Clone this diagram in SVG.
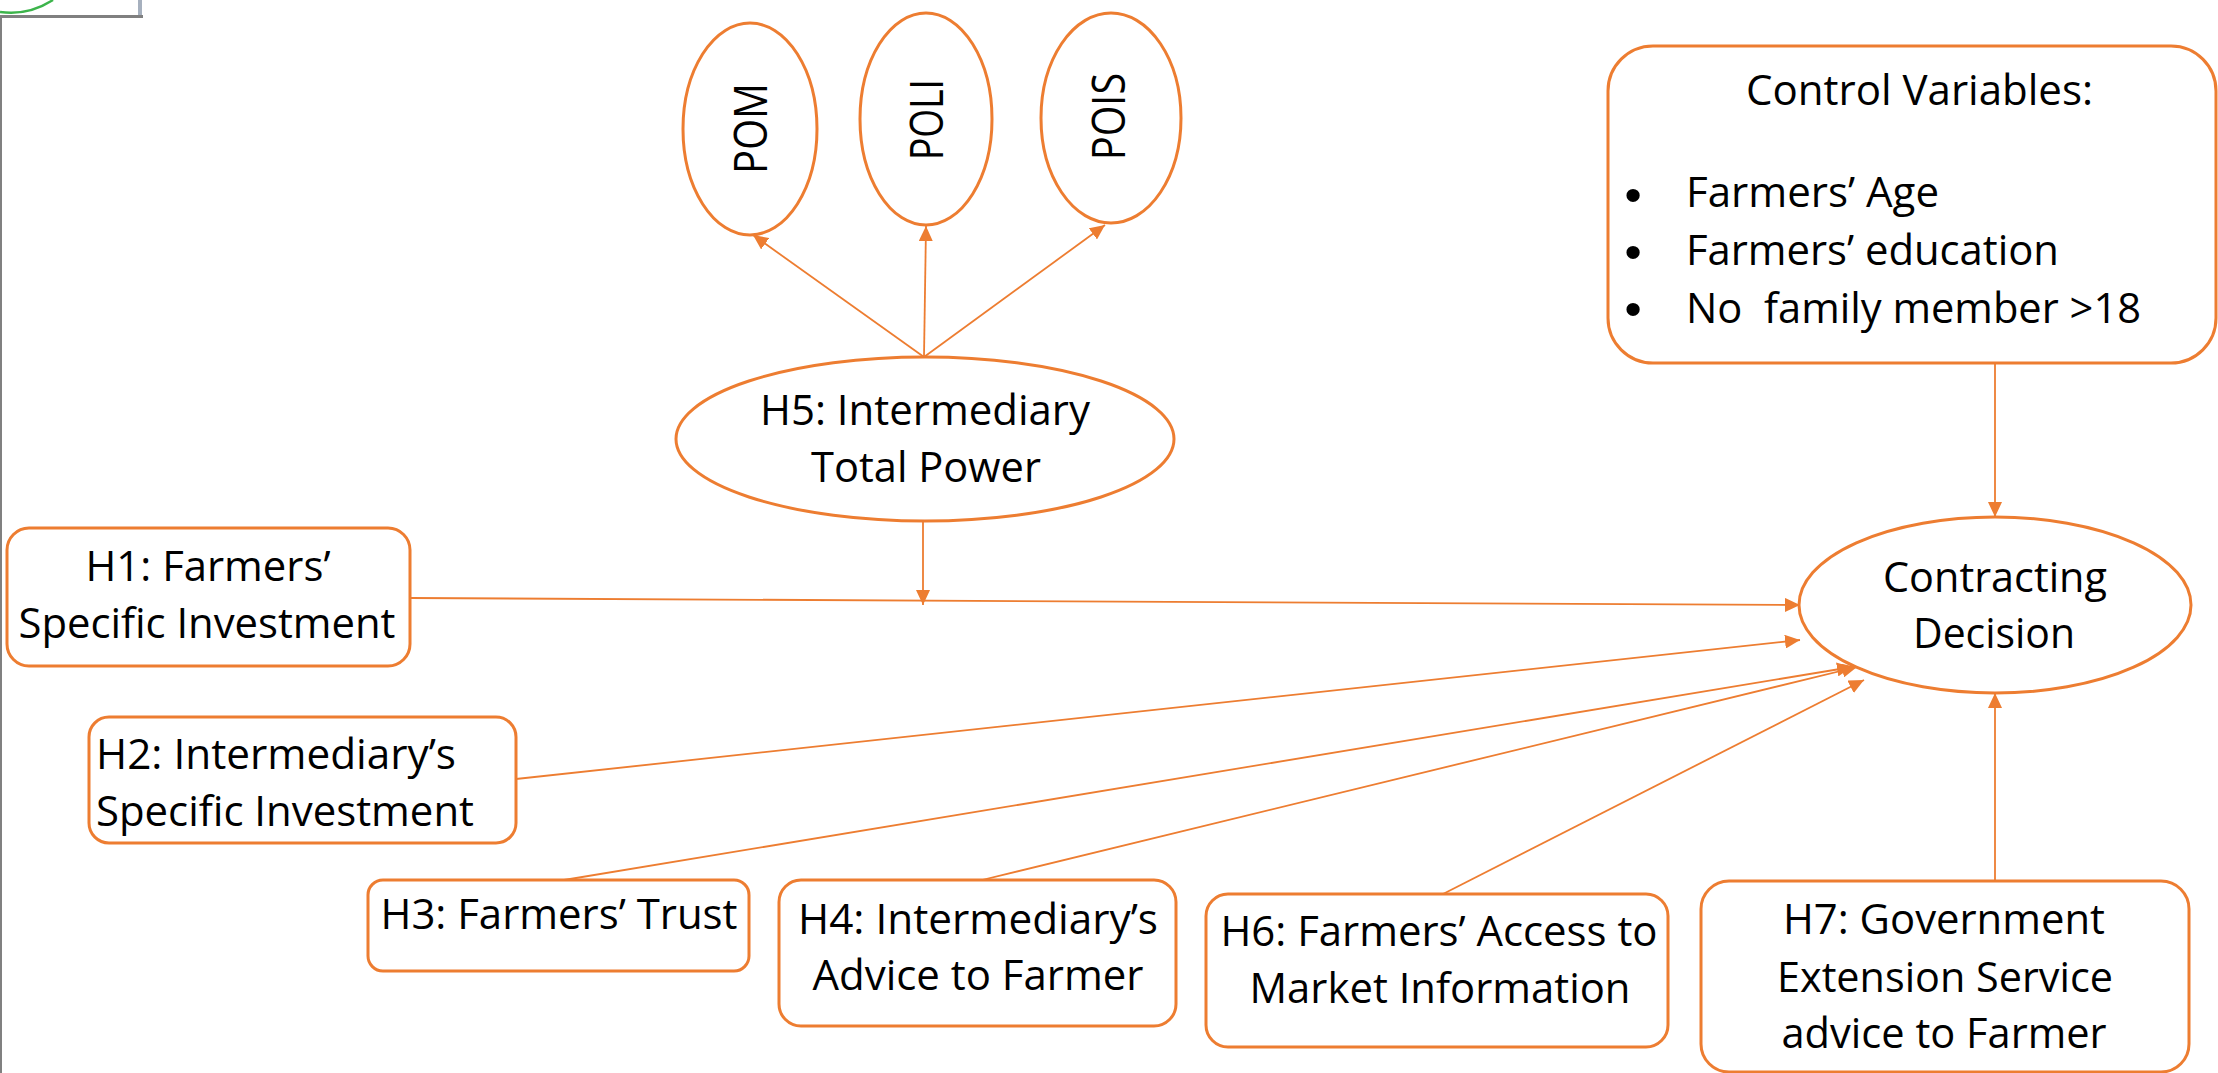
<svg xmlns="http://www.w3.org/2000/svg" width="2218" height="1073" viewBox="0 0 2218 1073">
<defs>
<style>
.box{fill:#fff;stroke:#ED7D31;stroke-width:3}
.conn{stroke:#ED7D31;stroke-width:1.8;fill:none;marker-end:url(#arr)}
text{font-family:"Open Sans","Liberation Sans",sans-serif;font-size:42px;fill:#000}
.c{text-anchor:middle}
.r{font-size:45px}
.b{font-family:"Liberation Sans",sans-serif;font-size:49px;text-anchor:middle}
</style>
<marker id="arr" markerUnits="userSpaceOnUse" markerWidth="16" markerHeight="14" refX="15" refY="7" orient="auto" viewBox="0 0 16 14"><path d="M0,0 L15,7 L0,14 z" fill="#ED7D31"/></marker>
</defs>
<rect width="2218" height="1073" fill="#fff"/>
<g id="frame">
<path d="M0,12 Q28,16 53,0" fill="none" stroke="#3cb44b" stroke-width="2.5"/>
<rect x="138" y="0" width="4" height="16" fill="#a6b0be"/>
<line x1="0" y1="16.5" x2="143" y2="16.5" stroke="#808080" stroke-width="3"/>
<line x1="1" y1="16" x2="1" y2="1073" stroke="#808080" stroke-width="2"/>
</g>
<g id="pom"><ellipse class="box" cx="750" cy="129" rx="67" ry="106"/><text class="c r" transform="translate(767,128.5) rotate(-90)" textLength="91" lengthAdjust="spacingAndGlyphs">POM</text></g>
<g id="poli"><ellipse class="box" cx="926" cy="119" rx="66" ry="106"/><text class="c r" transform="translate(943,119.5) rotate(-90)" textLength="81" lengthAdjust="spacingAndGlyphs">POLI</text></g>
<g id="pois"><ellipse class="box" cx="1111" cy="118" rx="70" ry="105"/><text class="c r" transform="translate(1125,116.5) rotate(-90)" textLength="87" lengthAdjust="spacingAndGlyphs">POIS</text></g>
<g id="h5"><ellipse class="box" cx="925" cy="439" rx="249" ry="82"/>
<text class="c" x="925" y="425" textLength="330" lengthAdjust="spacingAndGlyphs">H5: Intermediary</text>
<text class="c" x="926" y="482" textLength="230" lengthAdjust="spacingAndGlyphs">Total Power</text></g>
<g id="control"><rect class="box" x="1608" y="46" width="608" height="317" rx="45"/>
<text x="1746" y="105" textLength="347" lengthAdjust="spacingAndGlyphs">Control Variables:</text>
<text class="b" x="1633" y="211">•</text>
<text class="b" x="1633" y="268">•</text>
<text class="b" x="1633" y="325">•</text>
<text x="1686" y="207" textLength="253" lengthAdjust="spacingAndGlyphs">Farmers’ Age</text>
<text x="1686" y="265" textLength="373" lengthAdjust="spacingAndGlyphs">Farmers’ education</text>
<text x="1686" y="323" xml:space="preserve" textLength="455" lengthAdjust="spacingAndGlyphs">No  family member &gt;18</text></g>
<g id="contracting"><ellipse class="box" cx="1995" cy="605" rx="196" ry="88"/>
<text class="c" x="1995" y="592" textLength="224" lengthAdjust="spacingAndGlyphs">Contracting</text>
<text class="c" x="1994" y="648" textLength="162" lengthAdjust="spacingAndGlyphs">Decision</text></g>
<g id="h1"><rect class="box" x="7" y="528" width="403" height="138" rx="22"/>
<text class="c" x="208" y="581" textLength="245" lengthAdjust="spacingAndGlyphs">H1: Farmers’</text>
<text class="c" x="207" y="638" textLength="377" lengthAdjust="spacingAndGlyphs">Specific Investment</text></g>
<g id="h2"><rect class="box" x="89" y="717" width="427" height="126" rx="20"/>
<text x="96" y="769" textLength="360" lengthAdjust="spacingAndGlyphs">H2: Intermediary’s</text>
<text x="96" y="826" textLength="378" lengthAdjust="spacingAndGlyphs">Specific Investment</text></g>
<g id="h3"><rect class="box" x="368" y="880" width="381" height="91" rx="15"/>
<text class="c" x="559" y="929" textLength="357" lengthAdjust="spacingAndGlyphs">H3: Farmers’ Trust</text></g>
<g id="h4"><rect class="box" x="779" y="880" width="397" height="146" rx="22"/>
<text class="c" x="978" y="934" textLength="360" lengthAdjust="spacingAndGlyphs">H4: Intermediary’s</text>
<text class="c" x="978" y="990" textLength="331" lengthAdjust="spacingAndGlyphs">Advice to Farmer</text></g>
<g id="h6"><rect class="box" x="1206" y="894" width="462" height="153" rx="22"/>
<text class="c" x="1439" y="946" textLength="437" lengthAdjust="spacingAndGlyphs">H6: Farmers’ Access to</text>
<text class="c" x="1440" y="1003" textLength="381" lengthAdjust="spacingAndGlyphs">Market Information</text></g>
<g id="h7"><rect class="box" x="1701" y="881" width="488" height="191" rx="28"/>
<text class="c" x="1944" y="934" textLength="322" lengthAdjust="spacingAndGlyphs">H7: Government</text>
<text class="c" x="1945" y="992" textLength="336" lengthAdjust="spacingAndGlyphs">Extension Service</text>
<text class="c" x="1944" y="1048" textLength="325" lengthAdjust="spacingAndGlyphs">advice to Farmer</text></g>
<g id="connectors">
<line class="conn" x1="924" y1="357" x2="753" y2="235"/>
<line class="conn" x1="924" y1="357" x2="926" y2="226"/>
<line class="conn" x1="924" y1="357" x2="1105" y2="225"/>
<line class="conn" x1="923" y1="521" x2="923" y2="605"/>
<line class="conn" x1="410" y1="598" x2="1800" y2="605"/>
<line class="conn" x1="516" y1="779" x2="1800" y2="640"/>
<line class="conn" x1="564" y1="880" x2="1852" y2="667"/>
<line class="conn" x1="982" y1="880" x2="1857" y2="667"/>
<line class="conn" x1="1443" y1="894" x2="1864" y2="680"/>
<line class="conn" x1="1995" y1="881" x2="1995" y2="693"/>
<line class="conn" x1="1995" y1="363" x2="1995" y2="517"/>
</g>
</svg>
